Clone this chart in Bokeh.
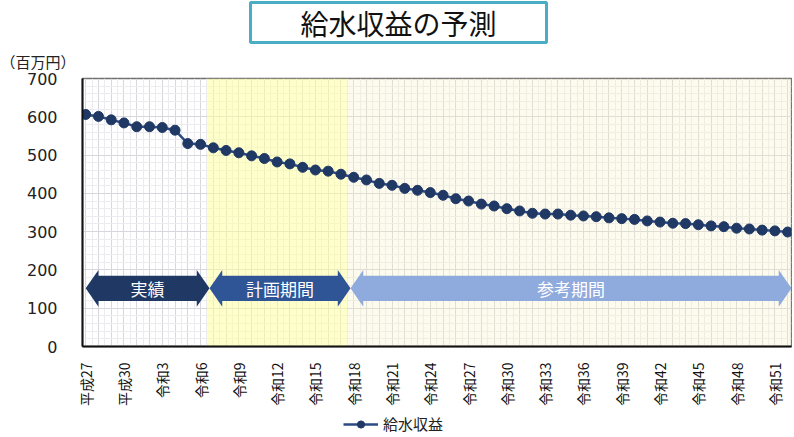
import math
from bokeh.plotting import figure
from bokeh.layouts import column
from bokeh.models import Range1d, FixedTicker, BoxAnnotation, Title, Legend, LegendItem, ColumnDataSource
from bokeh.embed import file_html
from bokeh.resources import INLINE
from bokeh.core.properties import value

# ---- data ----
year_index = list(range(56))  # 平成27 (index 0) ... 令和52 (index 55)
tick_positions = list(range(0, 55, 3))
tick_labels = ["平成27", "平成30", "令和3", "令和6", "令和9", "令和12", "令和15", "令和18",
               "令和21", "令和24", "令和27", "令和30", "令和33", "令和36", "令和39", "令和42",
               "令和45", "令和48", "令和51"]
revenue = [606, 601, 592, 584, 574, 574, 572, 565, 530, 528,
           519, 512, 506, 498, 491, 482, 477, 468, 461, 458,
           450, 442, 435, 426, 421, 413, 408, 402, 395, 386,
           380, 372, 367, 360, 354, 348, 346, 346, 343, 341,
           339, 336, 334, 332, 328, 325, 322, 321, 318, 315,
           313, 309, 307, 304, 302, 299]
series_name = "給水収益"
period_names = ["実績", "計画期間", "参考期間"]
period_start = [-0.25, 9.5, 20.5]
period_end = [9.5, 20.5, 55.3]
y_ticks = [0, 100, 200, 300, 400, 500, 600, 700]

X0, X1 = -0.25, 55.3
LINE_COLOR, DOT_COLOR = "#2B4A86", "#1F3864"

p = figure(width=792, height=410, output_backend="svg", toolbar_location=None,
           x_range=Range1d(X0, X1), y_range=Range1d(0, 700),
           min_border_left=82, min_border_right=1, min_border_top=77, min_border_bottom=64)
p.background_fill_color = "white"
p.border_fill_color = "white"
p.outline_line_color = "#6F6F6F"
p.outline_line_width = 1.5

# grids
p.xgrid.ticker = FixedTicker(ticks=year_index, minor_ticks=[i + 0.5 for i in year_index])
p.xgrid.grid_line_color = "#D6D6DC"
p.xgrid.minor_grid_line_color = "#ECECF0"
p.ygrid.ticker = FixedTicker(ticks=y_ticks, minor_ticks=[v for v in range(20, 700, 20) if v % 100])
p.ygrid.grid_line_color = "#D6D6DC"
p.ygrid.minor_grid_line_color = "#ECECF0"

# period backgrounds
p.add_layout(BoxAnnotation(left=period_start[1], right=period_end[1], fill_color="#FFFF99",
                           fill_alpha=0.5, line_color=None, level="underlay"))
p.add_layout(BoxAnnotation(left=period_start[2], fill_color="#F8EEC8",
                           fill_alpha=0.3, line_color=None, level="underlay"))

# axes
p.xaxis.ticker = FixedTicker(ticks=tick_positions)
p.xaxis.major_label_overrides = {t: l for t, l in zip(tick_positions, tick_labels)}
p.xaxis.major_label_orientation = math.pi / 2
p.xaxis.major_label_text_font = "Noto Sans CJK JP"
p.xaxis.major_label_text_font_size = "14px"
p.xaxis.major_label_text_color = "#111111"
p.xaxis.major_label_standoff = 10
p.yaxis.ticker = FixedTicker(ticks=y_ticks)
p.yaxis.major_label_text_font = "DejaVu Sans"
p.yaxis.major_label_text_font_size = "16px"
p.yaxis.major_label_text_color = "#222222"
p.yaxis.major_label_standoff = 19
for ax in (p.xaxis, p.yaxis):
    ax.axis_line_color = "#111111"
    ax.axis_line_width = 2
    ax.major_tick_line_color = None
    ax.minor_tick_line_color = None

# period arrows
arrow_colors = ["#203864", "#2F5597", "#8FAADC"]
yc, body, head, hl = 152, 33, 48, 1.0
tip_shift = [0.25, 0.2, 0.25]
xs, ys, mids = [], [], []
for i in range(3):
    s = period_start[i] + tip_shift[i]
    e = period_end[i] + (tip_shift[i + 1] if i < 2 else 0)
    xs.append([s, s + hl, s + hl, e - hl, e - hl, e, e - hl, e - hl, s + hl, s + hl])
    ys.append([yc, yc + head, yc + body, yc + body, yc + head, yc, yc - head, yc - body, yc - body, yc - head])
    mids.append((s + e) / 2)
p.patches(xs, ys, fill_color=arrow_colors, line_color=None)
p.text(x=mids, y=[yc] * 3, text=period_names, text_color="white", text_align="center",
       text_baseline="middle", text_font=value("Noto Sans CJK JP"), text_font_size="17px")

# series
src = ColumnDataSource(dict(x=year_index, y=revenue))
p.line("x", "y", source=src, line_color=LINE_COLOR, line_width=2.5)
p.scatter("x", "y", source=src, size=10, fill_color=DOT_COLOR, line_color=DOT_COLOR)

# unit label (closest to frame) and boxed main title above it
p.add_layout(Title(text="（百万円）", align="left", offset=-82, standoff=13,
                   text_font="Noto Sans CJK JP", text_font_size="15px",
                   text_font_style="normal", text_color="#222222"), "above")
p.add_layout(Title(text="給水収益の予測", align="left", offset=168, standoff=0,
                   text_font="Noto Sans CJK JP", text_font_size="28px",
                   text_font_style="normal", text_color="#111111",
                   border_line_color="#4BACC6", border_line_width=3,
                   background_fill_color="white", padding=(50, 0)), "above")

# legend strip below the chart (its frame is aligned with the chart frame)
lf = figure(width=792, height=25, output_backend="svg", toolbar_location=None,
            x_range=Range1d(0, 1), y_range=Range1d(0, 1), min_border=0,
            x_axis_location=None, y_axis_location=None)
lf.grid.visible = False
lf.outline_line_color = None
lf.background_fill_color = "white"
lf.border_fill_color = "white"
hidden = ColumnDataSource(dict(x=[-10], y=[-10]))
l2 = lf.line("x", "y", source=hidden, line_color=LINE_COLOR, line_width=2.5)
s2 = lf.scatter("x", "y", source=hidden, size=10, fill_color=DOT_COLOR, line_color=DOT_COLOR)
legend = Legend(items=[LegendItem(label=series_name, renderers=[l2, s2])],
                location=(261, 1), orientation="horizontal", border_line_color=None,
                background_fill_alpha=0, padding=2, margin=0, glyph_width=35, glyph_height=18,
                label_standoff=5, label_text_font="Noto Sans CJK JP",
                label_text_font_size="15px", label_text_color="#222222")
lf.add_layout(legend)

layout = column(p, lf, spacing=0)
open("out.html", "w").write(file_html(layout, INLINE))
